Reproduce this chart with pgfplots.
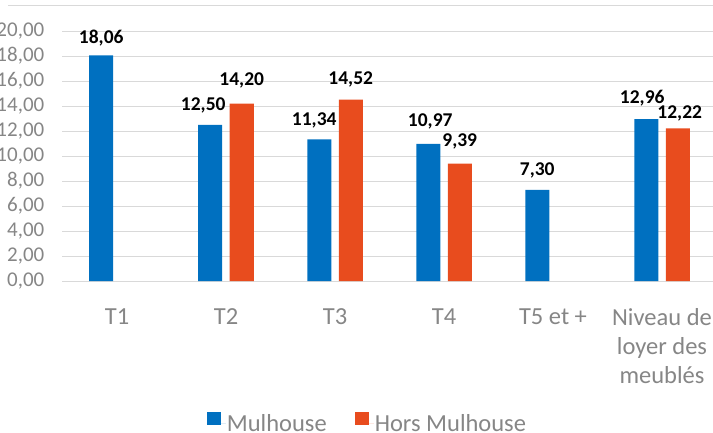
\documentclass[border=0pt]{standalone}
\usepackage{fontspec}
\setmainfont{Carlito}
\usepackage{pgfplots}
\usepackage{pgfplotstable}
\pgfplotsset{compat=1.18}
\definecolor{mblue}{HTML}{0070C0}
\definecolor{morange}{HTML}{E84C1E}
\definecolor{gridc}{HTML}{D9D9D9}
\definecolor{txtgray}{HTML}{868686}

% x = category, y = value, dx/dy = label nudge (pt)
\pgfplotstableread{
x y dx dy
0 18.06 0 -2
1 12.50 -7 0
2 11.34 -5 0
3 10.97 2 4
4 7.30 0 0
5 12.96 -4 2
}\mulhouse
\pgfplotstableread{
x y dx dy
1 14.20 0 4
2 14.52 0 1
3 9.39 0 3
5 12.22 2 -4
}\hors

\begin{document}
\begin{tikzpicture}
\path[use as bounding box, clip] (0pt,0pt) rectangle (713pt,432pt);
\draw[gridc, line width=1pt] (8pt,426pt) -- (713pt,426pt);
\begin{axis}[
  at={(62.5pt,151pt)}, anchor=south west,
  scale only axis, width=654pt, height=250pt,
  xmin=-0.5, xmax=5.5, ymin=0, ymax=20,
  ybar=7.5pt, bar width=24pt,
  axis line style={draw=none},
  tick style={draw=none},
  ytick={0,2,...,20},
  ymajorgrids, major grid style={gridc, line width=1pt},
  xtick={0,1,2,3,4,5},
  xticklabels={T1,T2,T3,T4,T5 et +,{Niveau de\\loyer des\\meublés}},
  /pgf/number format/.cd, fixed, fixed zerofill, precision=2, use comma, 1000 sep={}, assume math mode=true, /pgfplots/.cd,
  yticklabel style={font=\fontsize{21}{23}\selectfont, text=txtgray, anchor=east, inner sep=0pt, xshift=-18pt},
  xticklabel style={font=\fontsize{24.5}{29}\selectfont, text=txtgray, align=center, anchor=north, inner sep=0pt, yshift=-23pt},
  nodes near coords,
  every node near coord/.append style={font=\bfseries\fontsize{19.5}{21}\selectfont, text=black, anchor=south, inner sep=0pt, xshift={\dx*1pt}, yshift={(11+\dy)*1pt}},
  legend style={at={(0.4656,-0.567)}, anchor=center, draw=none, fill=none, legend columns=2,
    font=\fontsize{24.5}{27}\selectfont, text=txtgray,
    nodes={inner sep=1pt},
    /tikz/every even column/.append style={column sep=27pt}},
  legend image code/.code={\draw[#1, draw=none] (0pt,-1pt) rectangle (14pt,12pt); \path (0pt,0pt) -- (19pt,0pt);},
]
\addplot[fill=mblue, draw=none,
  visualization depends on={\thisrow{dx} \as \dx},
  visualization depends on={\thisrow{dy} \as \dy}] table[x=x, y=y] {\mulhouse};
\addplot[fill=morange, draw=none,
  visualization depends on={\thisrow{dx} \as \dx},
  visualization depends on={\thisrow{dy} \as \dy}] table[x=x, y=y] {\hors};
\legend{Mulhouse, Hors Mulhouse}
\end{axis}
\end{tikzpicture}
\end{document}
